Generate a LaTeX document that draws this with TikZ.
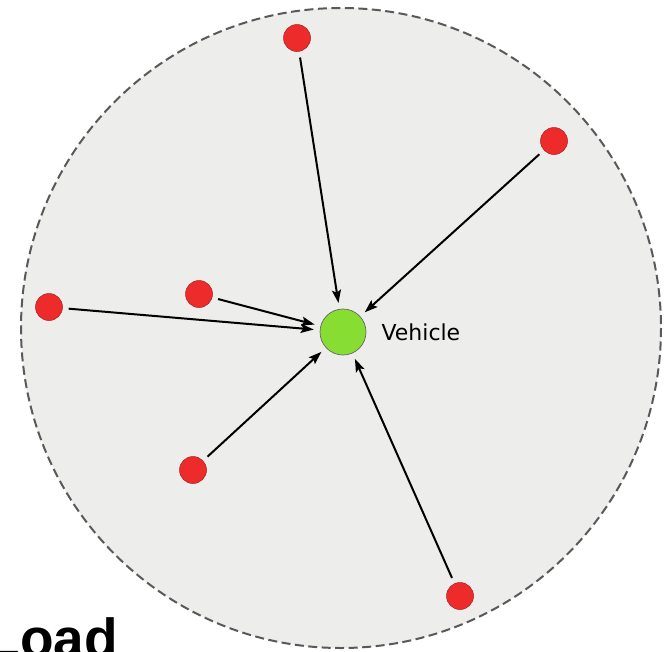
\documentclass[tikz,border=0pt]{standalone}
\usepackage{fontspec}
\newfontfamily\labelfont{DejaVu Sans}
\newfontfamily\titlefont{Liberation Sans}
\usetikzlibrary{arrows.meta, positioning}
\definecolor{areagray}{HTML}{EDEDEC}
\definecolor{nodered}{HTML}{EE2B2B}
\definecolor{nodegreen}{HTML}{88DD33}

\begin{document}
\begin{tikzpicture}[x=1pt, y=-1pt,
        area/.style={circle, draw=black!65, fill=areagray, dash pattern=on 9pt off 4.5pt, line width=2pt},
        r/.style={circle, minimum size=27pt, inner sep=0pt, fill=nodered, draw=nodered!70!black, line width=0.5pt},
        v/.style={circle, minimum size=46pt, inner sep=0pt, fill=nodegreen, draw=black!60, line width=0.7pt},
        e/.style={-{Stealth[length=13pt, width=9pt, inset=2.5pt]}, line width=2pt, shorten <=6pt, shorten >=6pt}]
        \useasboundingbox (0,0) rectangle (672,651);
        \draw[area] (341,328) circle (320);

        \node[v] (veh) at (343,332) {};
        \node[right=15pt of veh, font=\labelfont\fontsize{22}{24}\selectfont, inner sep=0pt] (vlabel) {Vehicle};

        \foreach \i/\x/\y in {1/297/38, 2/554/141, 3/199/294, 4/49/307, 5/193/470, 6/460/596}
        \node[r] (r\i) at (\x,\y) {};

        \foreach \i in {1, ..., 6}
        \draw[e] (r\i) -- (veh);

        \node[anchor=base west, inner sep=0pt, font=\titlefont\bfseries\fontsize{55}{60}\selectfont] (load) at (-13.6,657) {Load};
      \end{tikzpicture}
\end{document}
